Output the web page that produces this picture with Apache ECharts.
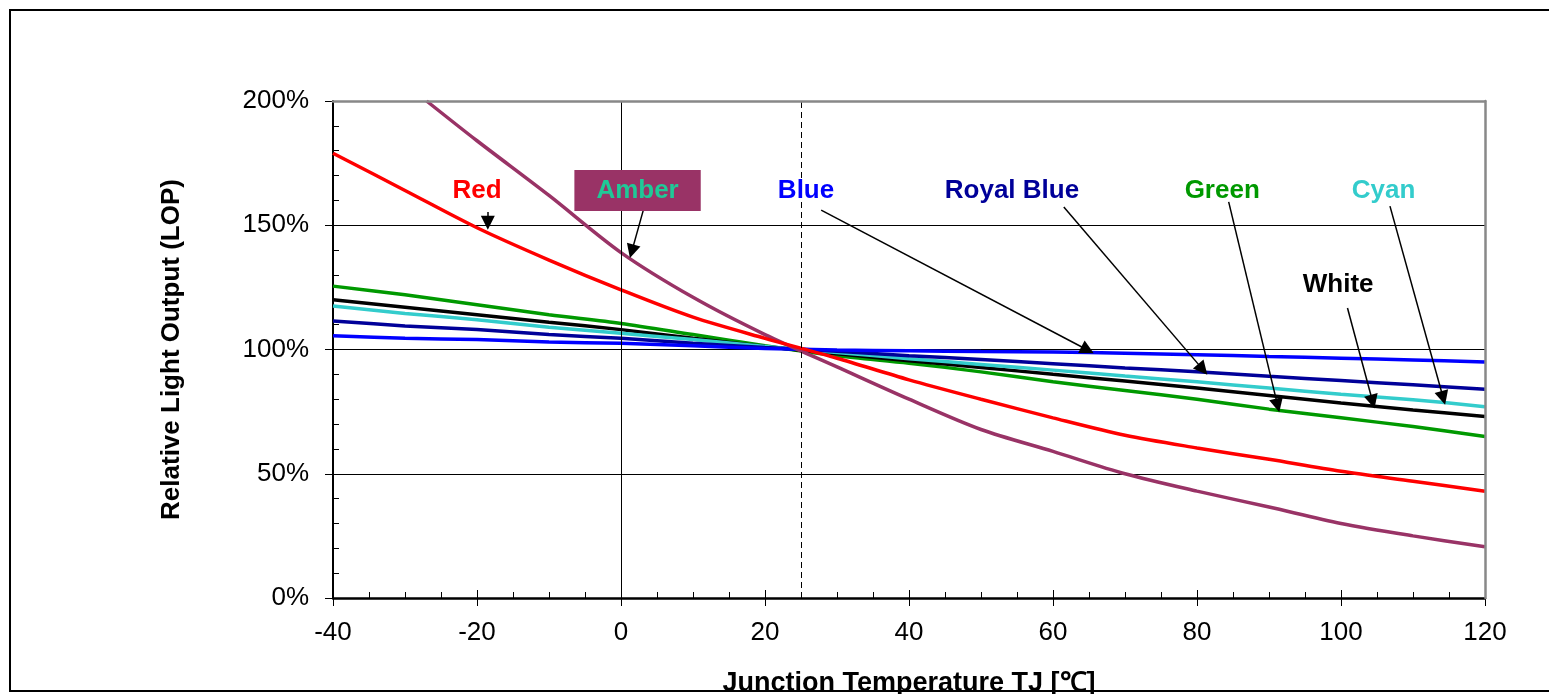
<!DOCTYPE html>
<html>
<head>
<meta charset="utf-8">
<script src="https://cdn.jsdelivr.net/npm/echarts@6/dist/echarts.min.js"></script>
<style>
  html, body { margin: 0; padding: 0; background: #fff; }
  #chart { width: 1549px; height: 694px; }
</style>
</head>
<body>
<div id="chart"></div>
<script>
// junction temperature steps (°C)
const temps = [-40, -30, -20, -10, 0, 10, 20, 30, 40, 50, 60, 70, 80, 90, 100, 110, 120];
const amberTemps = [-27, -20, -10, 0, 10, 20, 30, 40, 50, 60, 70, 80, 90, 100, 110, 120];

// relative light output (%)
const red = [179, 164, 149, 136, 124, 113, 104.5, 96.5, 87.8, 80, 72.5, 65.5, 60.4, 55.8, 51, 47, 43];
const amber = [200, 184, 162, 139, 121, 106, 93, 80, 67.8, 59, 50, 43, 36.6, 30, 25, 20.6];
const green = [125.5, 122, 118, 114, 110.5, 106, 101.5, 97.5, 94.5, 91, 87, 83.5, 80, 76, 72.5, 69, 65];
const white = [120, 117, 114, 111, 108, 104.5, 101.2, 98.3, 95.5, 92.8, 90, 87.3, 84.5, 81.5, 78.5, 75.7, 73];
const cyan = [117.5, 114.5, 112, 109, 106.5, 104, 101.2, 98.8, 96.3, 94, 91.7, 89.3, 87, 84.5, 82, 79.8, 77];
const royalBlue = [111.5, 109.5, 108, 106, 104.5, 102.5, 100.8, 99.3, 97.5, 96, 94.3, 92.6, 91, 89.2, 87.5, 85.8, 84];
const blue = [105.5, 104.5, 104, 103, 102.5, 101.5, 100.4, 99.8, 99.5, 99.2, 99, 98.5, 97.9, 97.2, 96.5, 95.8, 95];

// callout labels [name, temp, value]
const labelNames = ['Red', 'Amber', 'Blue', 'Royal Blue', 'Green', 'Cyan', 'White'];
const labelTemps = [-20, 2.3, 25.7, 54.3, 83.5, 105.9, 99.6];
const labelValues = [164, 164, 164, 164, 164, 164, 126];

// arrows: start -> end, in data units
const arrowFrom = [[-18.5, 155.3], [3.1, 156.1], [27.8, 156.1], [61.5, 157.3], [84.4, 159.4], [100.9, 116.7], [106.8, 157.7]];
const arrowTo = [[-18.5, 151], [1.5, 139.5], [64.8, 99.8], [80.8, 92], [91.2, 77.5], [104.4, 79], [114.2, 80.5]];

const FONT = '"Liberation Sans", Arial, sans-serif';
const colors = {
  Red: '#ff0000', Amber: '#993366', Blue: '#0000ff', 'Royal Blue': '#000099',
  Green: '#009900', Cyan: '#33cccc', White: '#000000'
};

function curve(name, xs, ys) {
  return {
    name: name,
    type: 'line',
    data: xs.map((t, i) => [t, ys[i]]),
    smooth: 0.3,
    showSymbol: false,
    silent: true,
    lineStyle: { color: colors[name], width: 3.5 },
    itemStyle: { color: colors[name] },
    z: 2
  };
}

const myChart = echarts.init(document.getElementById('chart'));

const valueX = { type: 'value', min: -40, max: 120, interval: 20 };
const valueY = { type: 'value', min: 0, max: 200, interval: 50 };

const option = {
  animation: false,
  backgroundColor: '#fff',
  textStyle: { fontFamily: FONT },
  grid: { left: 333, top: 101, width: 1152, height: 497, outerBoundsMode: 'none', containLabel: false },
  graphic: [
    {
      type: 'rect',
      shape: { x: 10, y: 10, width: 1600, height: 681 },
      style: { fill: 'none', stroke: '#000', lineWidth: 2 },
      z: 100
    }
  ],
  xAxis: [
    Object.assign({}, valueX, {
      position: 'bottom',
      axisLine: { show: true, onZero: false, lineStyle: { color: '#000', width: 2.5 } },
      axisTick: { show: true, inside: true, length: 8, lineStyle: { color: '#000' } },
      minorTick: { show: true, splitNumber: 4, length: 6, lineStyle: { color: '#000' } },
      axisLabel: { color: '#000', fontSize: 26, margin: 22, fontFamily: FONT },
      splitLine: { show: false },
      name: 'Junction Temperature TJ [℃]',
      nameLocation: 'middle',
      nameGap: 72,
      nameTextStyle: { color: '#000', fontSize: 27, fontWeight: 'bold', fontFamily: FONT }
    }),
    Object.assign({}, valueX, {
      position: 'bottom',
      axisLine: { show: false, onZero: false },
      axisTick: { show: true, inside: false, length: 8, lineStyle: { color: '#000' } },
      axisLabel: { show: false },
      splitLine: { show: false }
    }),
    Object.assign({}, valueX, {
      position: 'top',
      z: 5,
      axisLine: { show: true, onZero: false, lineStyle: { color: '#888', width: 2.5 } },
      axisTick: { show: false },
      axisLabel: { show: false },
      splitLine: { show: false }
    })
  ],
  yAxis: [
    Object.assign({}, valueY, {
      position: 'left',
      axisLine: { show: true, onZero: false, lineStyle: { color: '#000', width: 2 } },
      axisTick: { show: true, inside: true, length: 8, lineStyle: { color: '#000' } },
      minorTick: { show: true, splitNumber: 5, length: 6, lineStyle: { color: '#000' } },
      axisLabel: { color: '#000', fontSize: 26, margin: 24, formatter: '{value}%', fontFamily: FONT },
      splitLine: {
        show: true,
        lineStyle: { color: ['#000', '#000', '#000', '#000', '#888'], width: 1 }
      },
      name: 'Relative Light Output (LOP)',
      nameLocation: 'middle',
      nameGap: 148,
      nameTextStyle: { color: '#000', fontSize: 26, fontWeight: 'bold', fontFamily: FONT }
    }),
    Object.assign({}, valueY, {
      position: 'left',
      axisLine: { show: false, onZero: false },
      axisTick: { show: true, inside: false, length: 8, lineStyle: { color: '#000' } },
      axisLabel: { show: false },
      splitLine: { show: false }
    }),
    Object.assign({}, valueY, {
      position: 'right',
      z: 5,
      axisLine: { show: true, onZero: false, lineStyle: { color: '#888', width: 2.5 } },
      axisTick: { show: false },
      axisLabel: { show: false },
      splitLine: { show: false }
    })
  ],
  series: [
    {
      name: 'refs',
      type: 'line',
      data: [],
      silent: true,
      z: 1,
      markLine: {
        silent: true,
        symbol: 'none',
        label: { show: false },
        lineStyle: { color: '#000', width: 1 },
        data: [
          { xAxis: 0, lineStyle: { type: 'solid' } },
          { xAxis: 25, lineStyle: { type: [6, 4] } }
        ]
      }
    },
    curve('Green', temps, green),
    curve('White', temps, white),
    curve('Cyan', temps, cyan),
    curve('Royal Blue', temps, royalBlue),
    curve('Blue', temps, blue),
    curve('Amber', amberTemps, amber),
    curve('Red', temps, red),
    {
      name: 'notes',
      type: 'line',
      data: [],
      silent: true,
      z: 10,
      markLine: {
        silent: true,
        symbol: ['none', 'triangle'],
        symbolSize: 14,
        label: { show: false },
        lineStyle: { color: '#000', width: 1.5, type: 'solid' },
        data: arrowFrom.map((p, i) => [{ coord: p }, { coord: arrowTo[i] }])
      },
      markPoint: {
        silent: true,
        symbol: 'circle',
        symbolSize: 0,
        data: labelNames.map((n, i) => ({
          coord: [labelTemps[i], labelValues[i]],
          label: {
            show: true,
            position: 'inside',
            formatter: n,
            color: n === 'Amber' ? '#1fc997' : colors[n],
            fontSize: 26,
            fontWeight: 'bold',
            fontFamily: FONT,
            backgroundColor: n === 'Amber' ? '#993366' : 'transparent',
            padding: n === 'Amber' ? [8, 22, 7, 22] : 0
          }
        }))
      }
    }
  ]
};

myChart.setOption(option);
window.onresize = myChart.resize;
</script>
</body>
</html>
